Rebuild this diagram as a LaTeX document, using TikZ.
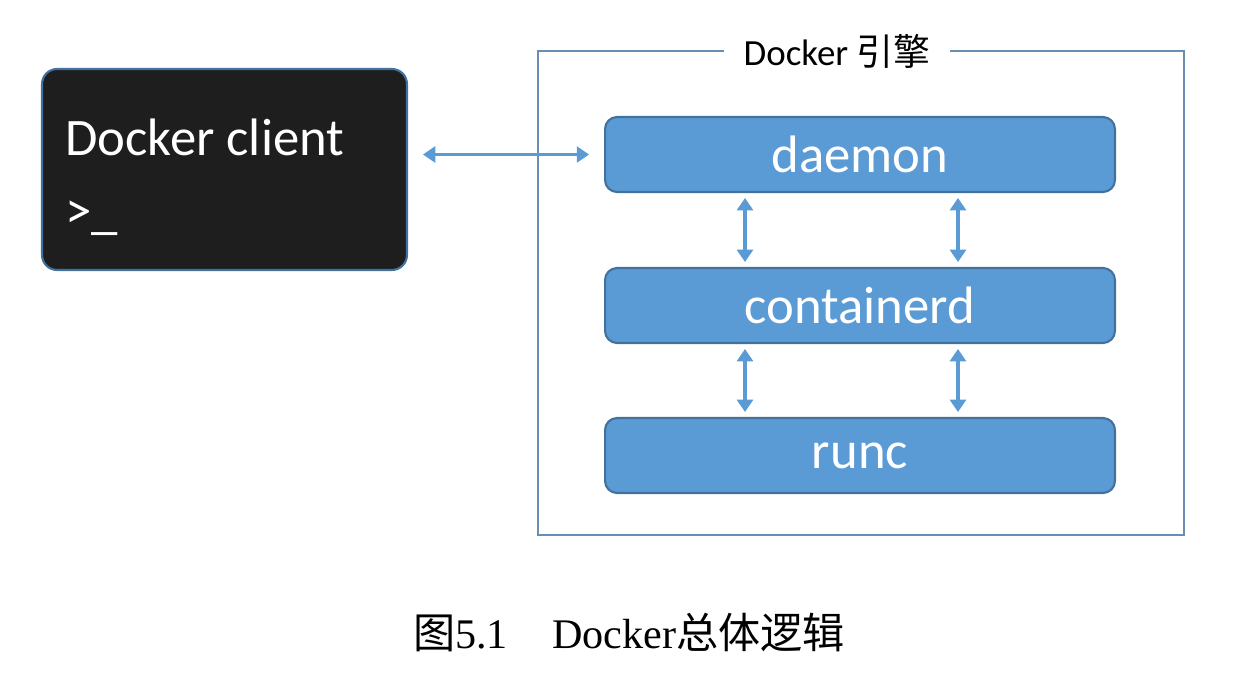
\documentclass[tikz,border=0pt]{standalone}
\usepackage{fontspec}
\setmainfont{Liberation Serif}
\newfontfamily\boxfont{Carlito}
\newfontfamily\cjk{Noto Sans CJK SC}
\usetikzlibrary{arrows.meta}
\definecolor{boxblue}{HTML}{5B9BD5}
\definecolor{boxedge}{HTML}{41719C}
\definecolor{frameblue}{HTML}{6A8DB4}
\definecolor{termbg}{HTML}{1E1E1E}
\tikzset{
  layer/.style={draw=boxedge, line width=1.2pt, fill=boxblue, rounded corners=0.24cm,
    minimum width=10.2cm, minimum height=1.5cm, text=white,
    font=\boxfont\fontsize{30}{30}\selectfont},
  term/.style={draw=boxedge, line width=1.2pt, fill=termbg, rounded corners=0.3cm,
    minimum width=7.3cm, minimum height=4.02cm},
  termtext/.style={text=white, font=\boxfont\fontsize{30}{30}\selectfont, anchor=base west, inner sep=0pt},
  link/.style={draw=boxblue, line width=2pt, {Triangle[width=9pt,length=7pt]}-{Triangle[width=9pt,length=7pt]}},
}
\begin{document}
\begin{tikzpicture}[x=0.02cm, y=-0.02cm]
\useasboundingbox (0,0) rectangle (1242,683);
% client
\node[term] (client) at (224.5,169.5) {};
\node[termtext] (clienttxt) at (65,155) {Docker client};
\node[termtext] (prompt) at (65,228) {>\_};
% engine frame
\draw[frameblue, line width=1.1pt] (538,51) rectangle (1184,535);
\node[fill=white, inner xsep=0.4cm, inner ysep=2pt, font=\boxfont\fontsize{21}{21}\selectfont] (title) at (837,51) {Docker {\cjk 引擎}};
% layers
\node[layer] (daemon) at (860,154.5) {daemon};
\node[layer] (containerd) at (860,305.5) {containerd};
\node[layer] (runc) at (860,455.5) {runc};
% connectors
\draw[link, shorten <=8.5pt, shorten >=8.5pt] (daemon.west -| client.east) -- (daemon.west);
\draw[link, shorten <=2.8pt, shorten >=2.8pt] (daemon.south -| 745,0) -- (containerd.north -| 745,0);
\draw[link, shorten <=2.8pt, shorten >=2.8pt] (daemon.south -| 958,0) -- (containerd.north -| 958,0);
\draw[link, shorten <=2.8pt, shorten >=2.8pt] (containerd.south -| 745,0) -- (runc.north -| 745,0);
\draw[link, shorten <=2.8pt, shorten >=2.8pt] (containerd.south -| 958,0) -- (runc.north -| 958,0);
% caption
\node[font=\fontsize{24}{24}\selectfont, anchor=base] (caption) at (629,648) {{\cjk 图}5.1\hspace{1.05em}Docker{\cjk 总体逻辑}};
\end{tikzpicture}
\end{document}
